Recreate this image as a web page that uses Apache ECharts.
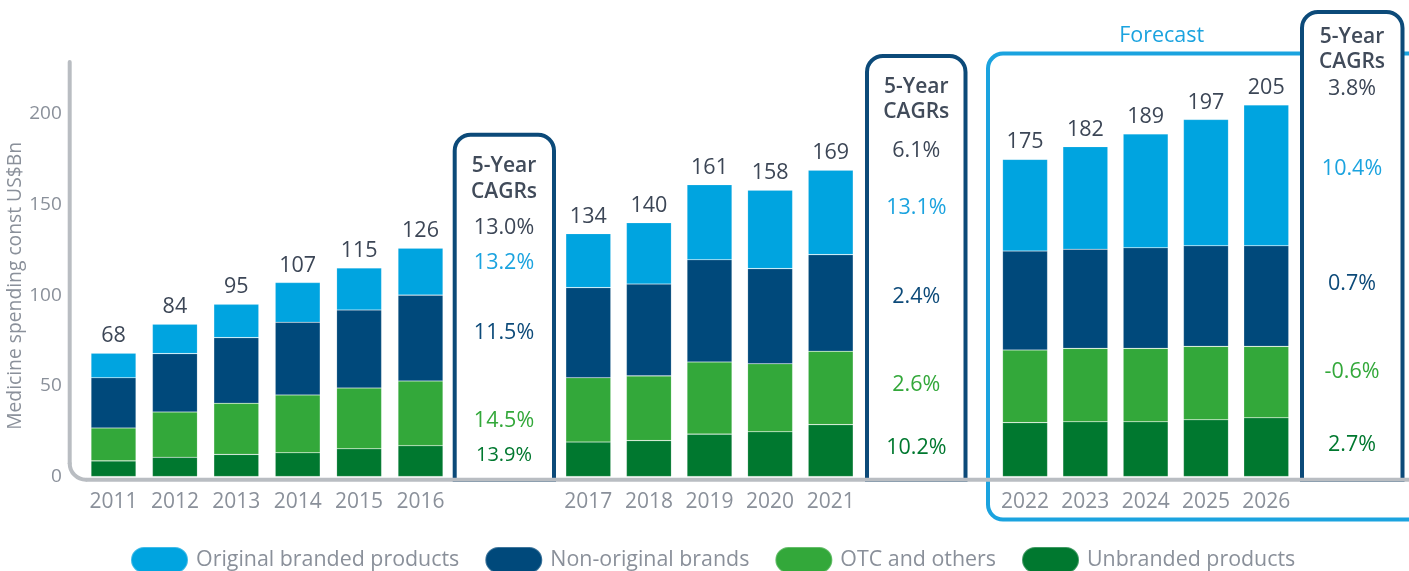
<!DOCTYPE html>
<html><head><meta charset="utf-8">
<script src="https://cdn.jsdelivr.net/npm/echarts@6/dist/echarts.min.js"></script>
<style>html,body{margin:0;padding:0;background:#fff}#c{width:1409px;height:571px}</style>
</head><body><div id="c"></div>
<script>
// ---- data ----
const years = ['2011','2012','2013','2014','2015','2016','2017','2018','2019','2020','2021','2022','2023','2024','2025','2026'];
const totals = [68,84,95,107,115,126,134,140,161,158,169,175,182,189,197,205];
const originalBranded = [13.5,16.2,18.4,21.9,23.1,25.9,29.8,33.8,41.4,43.3,46.6,50.6,56.6,62.8,69.7,77.7];
const nonOriginal = [27.7,32.2,36.2,40.1,43.1,47.4,49.7,50.7,56.4,52.5,53.3,54.6,54.7,55.5,55.5,55.5];
const otcOthers = [18.2,25.0,28.2,31.9,33.5,35.7,35.5,35.7,39.8,37.5,40.5,40.1,40.5,40.5,40.5,39.4];
const unbranded = [8.6,10.6,12.2,13.1,15.3,17.0,19.0,19.8,23.4,24.7,28.6,29.7,30.2,30.2,31.3,32.4];
const seriesNames = ['Original branded products','Non-original brands','OTC and others','Unbranded products'];
const cagrHead = ['5-Year','CAGRs'];
const cagr2011_2016 = ['13.0%','13.2%','11.5%','14.5%','13.9%'];
const cagr2016_2021 = ['6.1%','13.1%','2.4%','2.6%','10.2%'];
const cagr2021_2026 = ['3.8%','10.4%','0.7%','-0.6%','2.7%'];
const forecastLabel = 'Forecast';
const yAxisName = 'Medicine spending const US$Bn';

// ---- style ----
const C = { orig:'#00A4E0', non:'#00497B', otc:'#33A83A', unbr:'#00782F',
  gray:'#8A909A', dark:'#3C4656', axis:'#B9BDC2', box:'#0C4A79', fc:'#1BA3DF' };
const segColors = [C.orig, C.non, C.otc, C.unbr];
const FONT = '"Open Sans", "Noto Sans", sans-serif';
const FS = 21.5;

const periods = [[0,6],[6,11],[11,16]];
const gridPos = [{left:82.8,width:368.4},{left:558,width:303},{left:994.9,width:301.5}];
const baseY = 476.5, yMax = 228, pxPerUnit = 1.8124;
const gridTop = baseY - yMax*pxPerUnit;

const grids = [], xAxes = [], yAxes = [], series = [];
periods.forEach((p, g) => {
  grids.push({left:gridPos[g].left, width:gridPos[g].width, top:gridTop, height:baseY-gridTop});
  xAxes.push({type:'category', gridIndex:g, data:years.slice(p[0],p[1]),
    axisLine:{show:false}, axisTick:{show:false},
    axisLabel:{fontSize:21, color:C.gray, fontFamily:FONT, margin:15, interval:0}});
  yAxes.push({type:'value', gridIndex:g, min:0, max:yMax, interval:50, show:g===0,
    splitLine:{show:false}, axisLine:{show:false}, axisTick:{show:false},
    axisLabel:{fontSize:19, color:C.gray, fontFamily:FONT, margin:21, showMaxLabel:false},
    name: g===0 ? yAxisName : '', nameLocation:'middle', nameGap:41,
    nameTextStyle:{fontSize:19.3, color:C.gray, fontFamily:FONT, padding:[0,32,0,0]}});
  const stackData = [unbranded, otcOthers, nonOriginal, originalBranded];
  const names = [seriesNames[3], seriesNames[2], seriesNames[1], seriesNames[0]];
  const cols = [C.unbr, C.otc, C.non, C.orig];
  stackData.forEach((arr, k) => {
    const s = {name:names[k], type:'bar', stack:'s'+g, xAxisIndex:g, yAxisIndex:g, barWidth:45,
      itemStyle:{color:cols[k], borderColor:'rgba(255,255,255,0.25)', borderWidth:0.6},
      data:arr.slice(p[0],p[1]), emphasis:{disabled:true}};
    if (k === 3) {
      s.label = {show:true, position:'top', distance:6, fontSize:FS, color:C.dark, fontFamily:FONT,
        formatter: (prm) => String(totals[p[0] + prm.dataIndex])};
    }
    series.push(s);
  });
});

// ---- annotations ----
const graphics = [];
graphics.push({type:'rect', z:1, shape:{x:988, y:53.6, width:470, height:465.9, r:15},
  style:{fill:'none', stroke:C.fc, lineWidth:4}});
const boxes = [
  {l:454.7, r:554, t:134.7, cx:504, ys:[166,191.7,228.3,263.3,332.7,420.7,455], vals:cagr2011_2016, fill:'none'},
  {l:867, r:965.5, t:56, cx:916.3, ys:[86.7,112.3,150.7,208.3,296.7,385,448.3], vals:cagr2016_2021, fill:'none'},
  {l:1302, r:1402.5, t:12, cx:1352, ys:[37.2,62.5,88.6,169,284,372,444.6], vals:cagr2021_2026, fill:'#fff'}
];
const valColors = [C.dark, C.fc, C.box, C.otc, C.unbr];
boxes.forEach((b, i) => {
  graphics.push({type:'rect', z:2, shape:{x:b.l, y:b.t, width:b.r-b.l, height:480-b.t, r:[16,16,0,0]},
    style:{fill:b.fill, stroke:C.box, lineWidth:4}});
  cagrHead.forEach((h, j) => graphics.push({type:'text', z:20, style:{text:h, x:b.cx, y:b.ys[j],
    fill:'#414B5A', font:`600 21px ${FONT}`, align:'center', verticalAlign:'middle'}}));
  b.vals.forEach((v, j) => graphics.push({type:'text', z:20, style:{text:v, x:b.cx, y:b.ys[j+2],
    fill:valColors[j], font:`${(i===0 && j===4) ? 20 : FS}px ${FONT}`, align:'center', verticalAlign:'middle'}}));
});
graphics.push({type:'text', z:20, style:{text:forecastLabel, x:1161.7, y:35.5, fill:C.fc,
  font:`${FS}px ${FONT}`, align:'center', verticalAlign:'middle'}});
// axis lines with rounded corner
const axStyle = {fill:'none', stroke:C.axis, lineWidth:4, lineCap:'round'};
graphics.push({type:'line', z:10, shape:{x1:69.7, y1:62, x2:69.7, y2:463.5}, style:axStyle});
graphics.push({type:'arc', z:10, shape:{cx:85.9, cy:463.5, r:16.2, startAngle:Math.PI/2, endAngle:Math.PI, clockwise:true}, style:axStyle});
graphics.push({type:'line', z:10, shape:{x1:85.9, y1:479.7, x2:1420, y2:479.7}, style:{fill:'none', stroke:C.axis, lineWidth:4}});

const chart = echarts.init(document.getElementById('c'), null, {renderer:'canvas'});
chart.setOption({
  animation:false,
  textStyle:{fontFamily:FONT},
  color:segColors,
  grid:grids, xAxis:xAxes, yAxis:yAxes, series:series,
  legend:{data:seriesNames, left:130, top:546, itemWidth:57, itemHeight:26, itemGap:25, padding:0,
    icon:'path://M13,0 L44,0 A13,13 0 0 1 44,26 L13,26 A13,13 0 0 1 13,0 Z',
    textStyle:{fontSize:21.4, color:C.gray, fontFamily:FONT, padding:[0,0,0,3]}},
  graphic:graphics
});
</script></body></html>
